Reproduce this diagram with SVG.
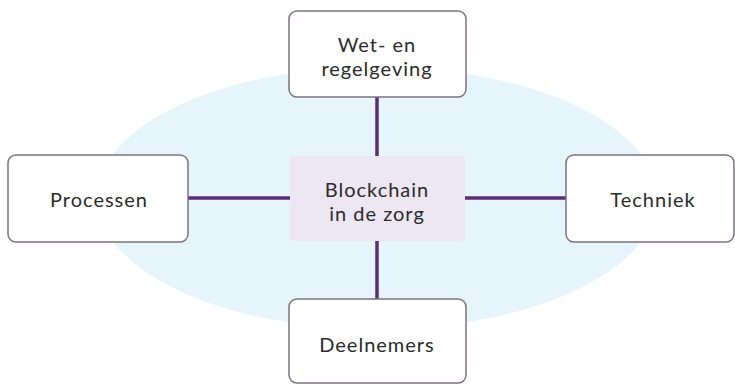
<svg xmlns="http://www.w3.org/2000/svg" width="735" height="385" viewBox="0 0 735 385">
<style>
.box{fill:#ffffff;stroke:#7c7282;stroke-width:1.5}
.center{fill:#ede6f3;stroke:none}
.lbl{font-family:Lato,"Open Sans","Liberation Sans",sans-serif;font-size:20px;letter-spacing:1px;fill:#2b2b2b;text-anchor:middle}
.con{stroke:#5b2e73;stroke-width:3.5;fill:none}
</style>
<rect width="735" height="385" fill="#ffffff"/>
<ellipse cx="377" cy="198" rx="280" ry="131" fill="#e6f4fb"/>
<g id="connectors">
<line class="con" x1="377" y1="97" x2="377" y2="157"/>
<line class="con" x1="377" y1="240" x2="377" y2="299"/>
<line class="con" x1="188" y1="198" x2="290" y2="198"/>
<line class="con" x1="465" y1="198" x2="566" y2="198"/>
</g>
<g id="center">
<rect class="center" x="290" y="156" width="175" height="85" rx="4"/>
<text class="lbl" x="377" y="197">Blockchain</text>
<text class="lbl" x="377" y="221">in de zorg</text>
</g>
<g id="wet">
<rect class="box" x="289" y="11" width="177" height="86" rx="8"/>
<text class="lbl" x="377" y="52">Wet- en</text>
<text class="lbl" x="377" y="76">regelgeving</text>
</g>
<g id="processen">
<rect class="box" x="8" y="155" width="180" height="87" rx="8"/>
<text class="lbl" x="99" y="207">Processen</text>
</g>
<g id="techniek">
<rect class="box" x="566" y="155" width="168" height="87" rx="8"/>
<text class="lbl" x="653" y="207">Techniek</text>
</g>
<g id="deelnemers">
<rect class="box" x="289" y="299" width="177" height="84" rx="8"/>
<text class="lbl" x="377" y="352">Deelnemers</text>
</g>
</svg>
